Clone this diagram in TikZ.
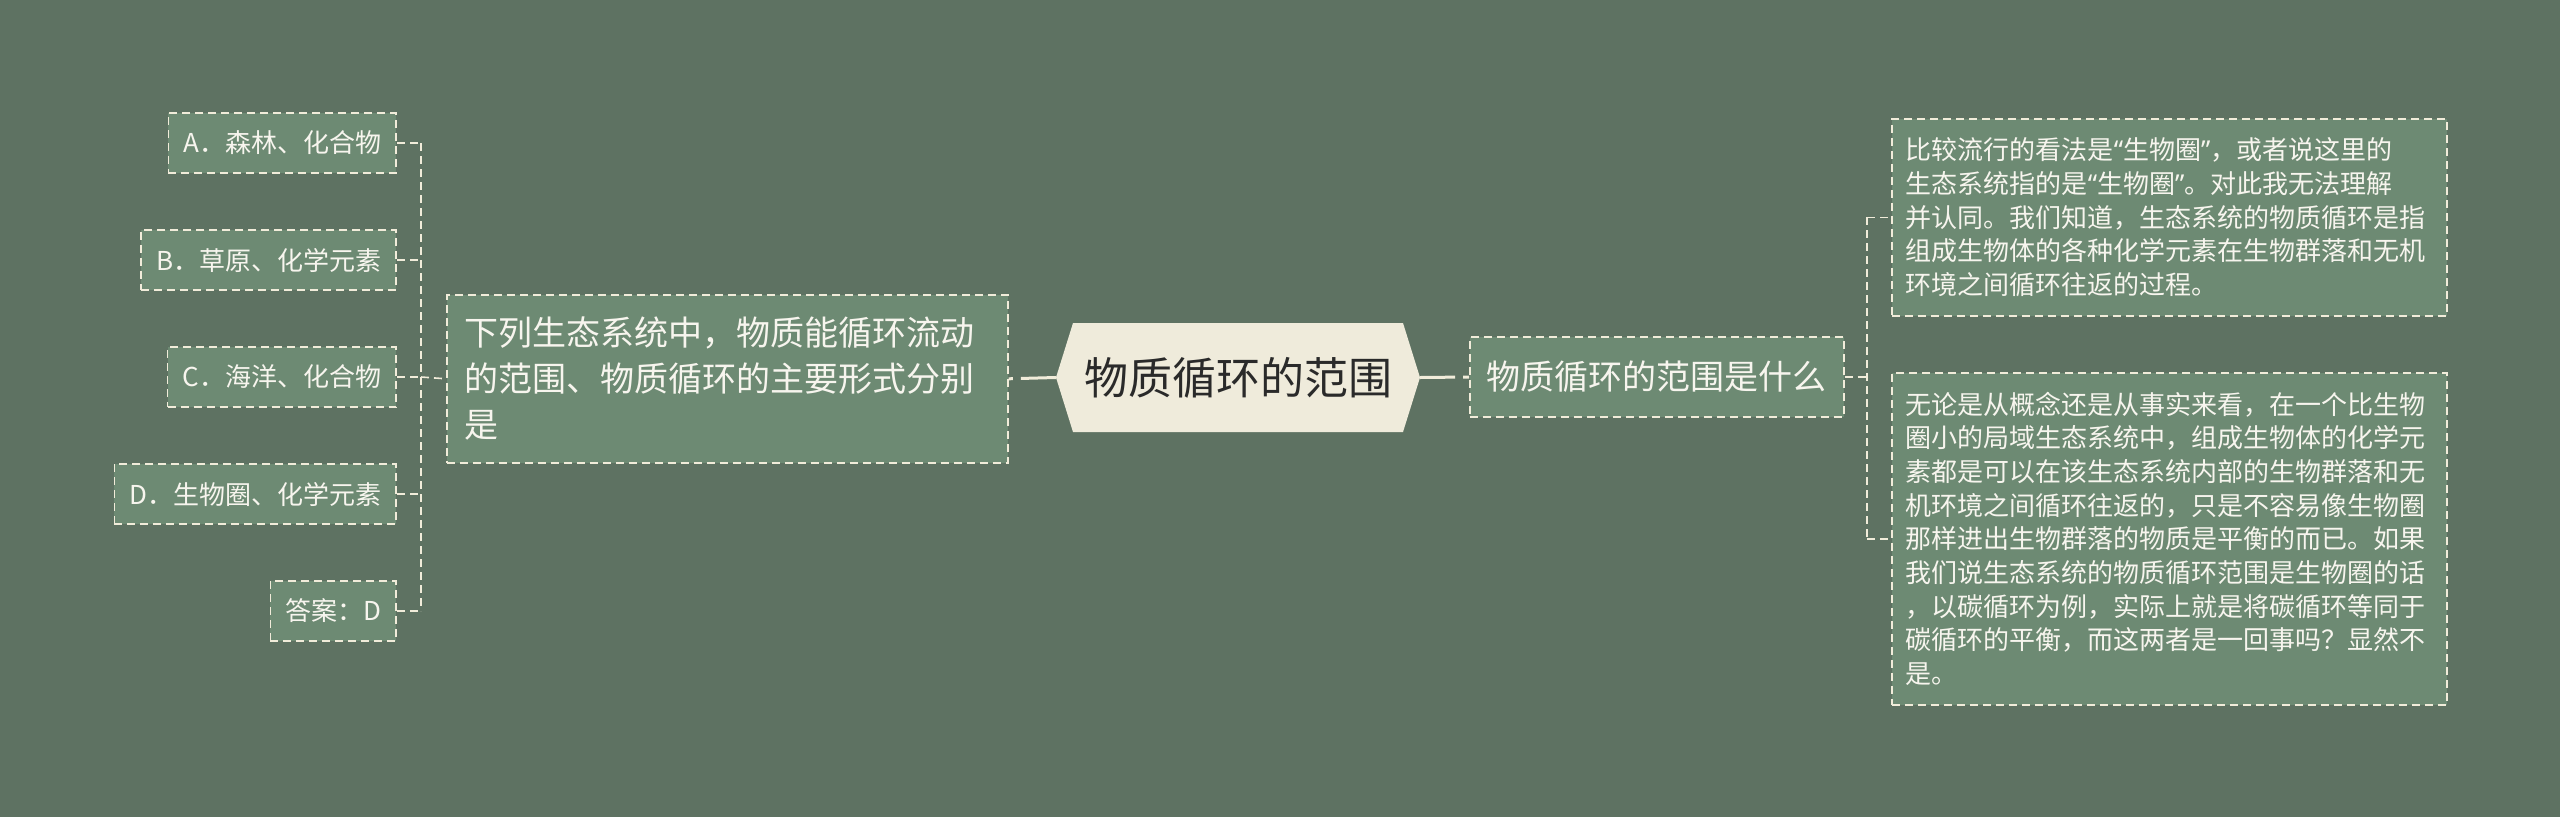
\documentclass[tikz,border=0pt]{standalone}
\usepackage{fontspec}
\setmainfont{Noto Sans CJK SC}
\newfontfamily\latinq{Noto Sans}
\newcommand{\myoq}{{\latinq “}}
\newcommand{\mycq}{{\latinq ”}}
\usetikzlibrary{calc}
\definecolor{bg}{HTML}{5E7262}
\definecolor{boxfill}{HTML}{6D8A73}
\definecolor{cream}{HTML}{F1ECDA}
\definecolor{hubfill}{HTML}{EFEBDB}
\definecolor{hubtext}{HTML}{2A2A2A}
\definecolor{boxtext}{HTML}{F7F5EE}
\begin{document}
\begin{tikzpicture}[x=1pt,y=-1pt,
  dbox/.style={draw=cream, line width=1.6pt, dash pattern=on 8pt off 5pt, fill=boxfill, text=boxtext},
  leaf/.style={dbox, font=\fontsize{26}{33.7}\selectfont, inner xsep=15pt, inner ysep=0pt, minimum height=60pt, anchor=east},
  para/.style={dbox, font=\fontsize{26}{33.7}\selectfont, align=left, text width=527pt, inner xsep=14pt, inner ysep=0pt, anchor=north west},
  dline/.style={draw=cream, line width=1.6pt, dash pattern=on 8pt off 5pt},
  hubline/.style={draw=cream, line width=3pt, dash pattern=on 35pt off 8pt on 20pt off 0pt}
]
\useasboundingbox (0,0) rectangle (2560,817);
\fill[bg] (0,0) rectangle (2560,817);

% central hexagon
\fill[hubfill] (1056,377.5) -- (1073,323) -- (1403,323) -- (1420,377.5) -- (1403,432) -- (1073,432) -- cycle;
\node[minimum width=364pt, minimum height=109pt, inner sep=0pt, text=hubtext, font=\fontsize{44}{50}\selectfont] (hub) at (1238,377.5) {物质循环的范围};

% left question
\node[dbox, anchor=north west, align=left, text width=525pt, inner xsep=18pt, inner ysep=0pt, minimum height=168pt, font=\fontsize{34}{46}\selectfont] (q) at (446,294)
  {下列生态系统中，物质能循环流动\\的范围、物质循环的主要形式分别\\是};

% leaves
\node[leaf] (a) at (397,143) {A．森林、化合物};
\node[leaf] (b) at (397,260) {B．草原、化学元素};
\node[leaf] (c) at (397,377) {C．海洋、化合物};
\node[leaf] (d) at (397,494) {D．生物圈、化学元素};
\node[leaf] (ans) at (397,611) {答案：D};

% right middle
\node[dbox, anchor=west, minimum width=374pt, minimum height=80pt, inner xsep=17pt, font=\fontsize{34}{40}\selectfont] (r) at (1469,377) {物质循环的范围是什么};

% right paragraphs
\node[para, minimum height=197pt] (t) at (1891,118)
  {比较流行的看法是\myoq 生物圈\mycq ，或者说这里的\\生态系统指的是\myoq 生物圈\mycq 。对此我无法理解\\并认同。我们知道，生态系统的物质循环是指\\组成生物体的各种化学元素在生物群落和无机\\环境之间循环往返的过程。};
\node[para, minimum height=332pt] (bt) at (1891,372)
  {无论是从概念还是从事实来看，在一个比生物\\圈小的局域生态系统中，组成生物体的化学元\\素都是可以在该生态系统内部的生物群落和无\\机环境之间循环往返的，只是不容易像生物圈\\那样进出生物群落的物质是平衡的而已。如果\\我们说生态系统的物质循环范围是生物圈的话\\，以碳循环为例，实际上就是将碳循环等同于\\碳循环的平衡，而这两者是一回事吗？显然不\\是。};

% bracket coordinates
\coordinate (brL) at (421,377);
\coordinate (brR) at (1867,377);

% hub connectors
\draw[hubline] (hub.west) -- (q.east);
\draw[hubline] (hub.east) -- (r.west);

% left bracket
\draw[dline] (brL) -- (q.west);
\draw[dline] (a.east -| brL) -- (ans.east -| brL);
\foreach \n in {a,b,c,d,ans} { \draw[dline] (\n.east) -- (\n.east -| brL); }

% right bracket
\draw[dline] (r.east) -- (brR);
\draw[dline] (t.west -| brR) -- (bt.west -| brR);
\draw[dline] (t.west -| brR) -- (t.west);
\draw[dline] (bt.west -| brR) -- (bt.west);
\end{tikzpicture}
\end{document}
